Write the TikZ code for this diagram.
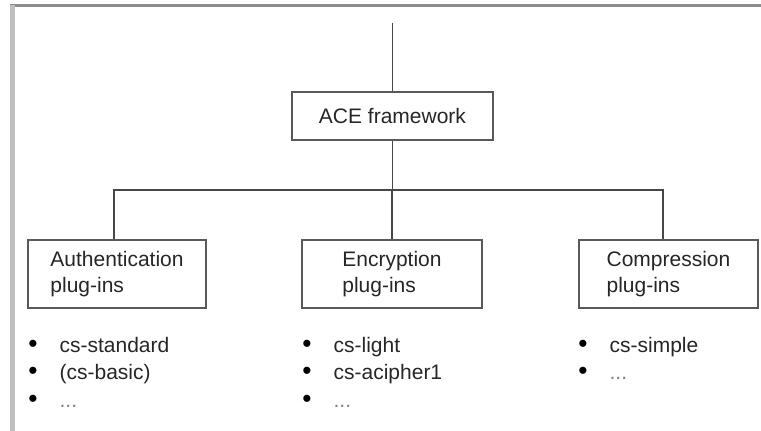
\documentclass[tikz,border=0pt]{standalone}
\usepackage{fontspec}
\setmainfont{Liberation Sans}
\usetikzlibrary{positioning}
\tikzset{
  plugbox/.style={draw=black!65, line width=1.5pt, align=left, inner sep=0pt,
    minimum width=178pt, minimum height=68pt, text=black!85,
    font=\fontsize{21}{26}\selectfont},
  link/.style={draw=black!72, line width=1.4pt},
  itemlist/.style={inner sep=0pt, text=black!85, font=\fontsize{21}{27.5}\selectfont}
}
\newcommand{\pluglist}[1]{\begin{tabular}{@{}l@{\hspace{22pt}}l@{}}#1\end{tabular}}
\newcommand{\blob}{\textcolor{black}{\scalebox{1.25}{\textbullet}}}
\newcommand{\moredots}{\textcolor{black!50}{...}}

\begin{document}
\begin{tikzpicture}[x=1pt,y=-1pt]
  \useasboundingbox (0,0) rectangle (761,431);
  % frame
  \draw[black!45, line width=3pt] (10,5.3) -- (761,5.3);
  \draw[black!25, line width=5pt] (12,5) -- (12,431);
  % boxes
  \node[plugbox, align=center, minimum width=201pt, minimum height=48pt] (ace) at (392.5,116) {ACE framework};
  \node[plugbox] (auth) at (117,274) {Authentication\\plug-ins};
  \node[plugbox, minimum width=180pt] (encr) at (392,274) {Encryption\\plug-ins};
  \node[plugbox, minimum width=179pt] (compr) at (668.5,274) {Compression\\plug-ins};
  % tree
  \coordinate (root) at (392.5,23);
  \coordinate (busL) at (114,190);
  \coordinate (busR) at (663,190);
  \draw[link] (root) -- (ace);
  \draw[link] (ace) -- (ace |- busL);
  \draw[link] (auth.north -| busL) -- (busL) -- (busR) -- (compr.north -| busR);
  \draw[link] (encr) -- (encr |- busL);
  % lists
  \node[itemlist, below right=24pt and 1pt of auth.south west] (authlist)
    {\pluglist{\blob & cs-standard\\ \blob & (cs-basic)\\ \blob & \moredots}};
  \node[itemlist, below right=24pt and 1pt of encr.south west] (encrlist)
    {\pluglist{\blob & cs-light\\ \blob & cs-acipher1\\ \blob & \moredots}};
  \node[itemlist, below right=24pt and 0pt of compr.south west] (comprlist)
    {\pluglist{\blob & cs-simple\\ \blob & \moredots}};
\end{tikzpicture}
\end{document}
